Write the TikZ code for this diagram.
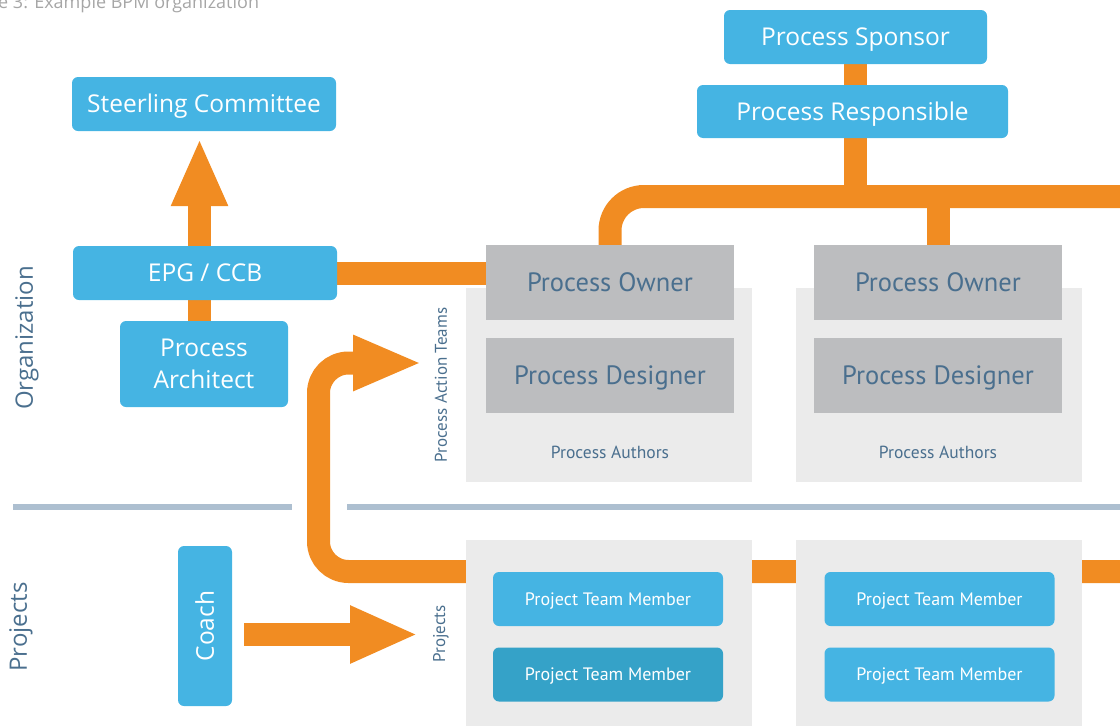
\documentclass[tikz,border=0pt]{standalone}
\usepackage{fontspec}
\setmainfont{Open Sans}
\newfontfamily\condfont{PT Sans}
\usetikzlibrary{arrows.meta}
\definecolor{bpblue}{HTML}{45B4E3}
\definecolor{bpdark}{HTML}{35A2C8}
\definecolor{bporange}{HTML}{F18C22}
\definecolor{bpgray}{HTML}{BCBDBF}
\definecolor{bppanel}{HTML}{EBEBEB}
\definecolor{bptext}{HTML}{4A6F8E}
\definecolor{bpsep}{HTML}{ADBFD0}
\definecolor{bptitle}{HTML}{A6A6A6}
\pgfdeclarelayer{background}
\pgfsetlayers{background,main}
\begin{document}
\begin{tikzpicture}[x=1pt,y=-1pt,
 bluebase/.style={fill=bpblue, rounded corners=6pt, text=white, inner sep=0pt, font=\fontsize{24.5}{28}\selectfont, align=center},
 bluebox/.style={bluebase, text height=17.5pt, text depth=0pt},
 graybox/.style={fill=bpgray, inner sep=0pt, minimum width=248pt, minimum height=75pt, text=bptext, font=\condfont\fontsize{26.5}{30}\selectfont, text height=18.5pt, text depth=0pt},
 panel/.style={fill=bppanel, inner sep=0pt, minimum width=286pt},
 ptm/.style={fill=bpblue, rounded corners=6pt, inner sep=0pt, minimum width=230pt, minimum height=54pt, text=white, font=\condfont\fontsize{18}{20}\selectfont, text height=12.6pt, text depth=0pt},
 authors/.style={text=bptext, inner sep=0pt, font=\condfont\fontsize{17.5}{20}\selectfont},
 flow/.style={draw=bporange, line width=23pt},
 bigarrow/.style={flow, -{Triangle[length=68pt,width=52pt]}},
 sidelabel/.style={text=bptext, rotate=90, inner sep=0pt, font=\fontsize{24}{28}\selectfont},
 smalllabel/.style={text=bptext, rotate=90, inner sep=0pt, font=\condfont\fontsize{17}{20}\selectfont},
 sepline/.style={draw=bpsep, line width=6pt}
]
\useasboundingbox (0,0) rectangle (1120,726);

% title
\node[anchor=base west, text=bptitle, inner sep=0pt, font=\fontsize{18}{20}\selectfont] (title) at (-2,8) {e 3: Example BPM organization};

% separators
\draw[sepline] (13,507) -- (292,507);
\draw[sepline] (347,507) -- (1125,507);

% side labels
\node[sidelabel] (org) at (27,338) {Organization};
\node[sidelabel] (proj) at (21,627) {Projects};
\node[smalllabel] (pat) at (441,385) {Process Action Teams};
\node[smalllabel] (projs) at (441,634) {Projects};

% panels
\node[panel, minimum height=194pt] (pan1) at (609,385) {};
\node[panel, minimum height=194pt] (pan2) at (939,385) {};
\node[panel, minimum height=190pt] (pan3) at (609,635) {};
\node[panel, minimum height=190pt] (pan4) at (939,635) {};

% left column
\node[bluebox, minimum width=264pt, minimum height=54pt] (sc) at (204,104) {Steerling Committee};
\node[bluebox, minimum width=264pt, minimum height=54pt] (epg) at (205,273) {EPG / CCB};
\node[bluebase, minimum width=168pt, minimum height=86pt] (arch) at (204,364) {Process\\[4pt]Architect};
\node[bluebox, rotate=90, minimum width=160pt, minimum height=54pt] (coach) at (205,626) {Coach};

% top right
\node[bluebox, minimum width=263pt, minimum height=54pt] (spon) at (855.5,37) {Process Sponsor};
\node[bluebox, minimum width=311pt, minimum height=53pt] (resp) at (852.5,111.5) {Process Responsible};

% process teams
\node[graybox] (po1) at (610,282.5) {Process Owner};
\node[graybox] (pd1) at (610,375.5) {Process Designer};
\node[authors] (pa1) at (610,452) {Process Authors};
\node[graybox] (po2) at (938,282.5) {Process Owner};
\node[graybox] (pd2) at (938,375.5) {Process Designer};
\node[authors] (pa2) at (938,452) {Process Authors};

% project teams
\node[ptm] (m11) at (608,599) {Project Team Member};
\node[ptm, fill=bpdark] (m12) at (608,674.5) {Project Team Member};
\node[ptm] (m21) at (939.5,599) {Project Team Member};
\node[ptm] (m22) at (939.5,674.5) {Project Team Member};

% helper coordinates
\coordinate (sx) at (199.5,0);
\coordinate (sx2) at (855.5,0);
\coordinate (tR) at (1125,196.5);
\coordinate (bR) at (1125,571.5);
\coordinate (bL) at (318.5,571.5);
\coordinate (aPAT) at (422,363);
\coordinate (aPRJ) at (418,634.5);

\begin{pgfonlayer}{background}
\draw[bigarrow] (epg.north -| sx) -- (sc.south -| sx) [shorten >=7pt];
\draw[flow] (epg.south -| sx) -- (arch.north -| sx);
\draw[flow] (epg.east) -- (epg.east -| po1.west);
\draw[flow] (spon.south -| sx2) -- (resp.north -| sx2);
\draw[flow] (resp.south -| sx2) -- (sx2 |- tR);
\draw[flow, rounded corners=34pt] (po1.north) |- (tR);
\draw[flow] (po2.north) -- (po2.north |- tR);
\draw[flow, -{Triangle[length=69pt,width=51pt]}, rounded corners=30pt] (bR) -- (bL) |- (aPAT);
\draw[flow, -{Triangle[length=68pt,width=53pt]}, shorten <=12pt] (coach.south |- aPRJ) -- (aPRJ);
\end{pgfonlayer}
\end{tikzpicture}
\end{document}
